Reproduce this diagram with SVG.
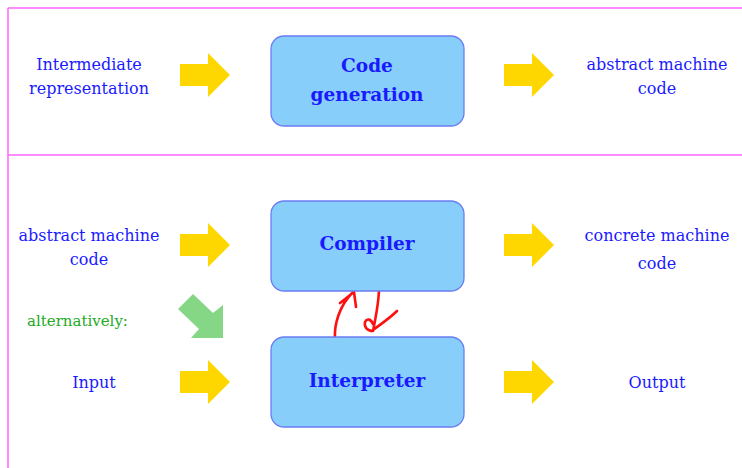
<svg xmlns="http://www.w3.org/2000/svg" width="742" height="468" viewBox="0 0 742 468">
<defs>
<style>
.frame{stroke:#ff66ff;stroke-width:1.5;fill:none}
.box{fill:#87cefa;stroke:#6b7cf5;stroke-width:1.3}
.lbl{font-family:"DejaVu Serif","Liberation Serif",serif;font-size:16px;fill:#1a1aff;text-anchor:middle}
.title{font-family:"DejaVu Serif","Liberation Serif",serif;font-size:18.5px;font-weight:bold;fill:#1a1aff;text-anchor:middle}
.alt{font-family:"DejaVu Serif","Liberation Serif",serif;font-size:15px;fill:#22aa22}
.ya{fill:#ffd700}
.red{stroke:#ff1010;stroke-width:2.6;fill:none;stroke-linecap:round;stroke-linejoin:round}
</style>
<polygon id="yarrow" points="0,-11 28,-11 28,-22 50,0 28,22 28,11 0,11"/>
</defs>
<g id="frame">
<line class="frame" x1="8" y1="8" x2="742" y2="8"/>
<line class="frame" x1="8" y1="155" x2="742" y2="155"/>
<line class="frame" x1="8" y1="8" x2="8" y2="468"/>
</g>
<g id="connectors">
<use href="#yarrow" class="ya" x="180" y="75"/>
<use href="#yarrow" class="ya" x="504" y="75"/>
<use href="#yarrow" class="ya" x="180" y="245"/>
<use href="#yarrow" class="ya" x="504" y="245"/>
<use href="#yarrow" class="ya" x="180" y="382"/>
<use href="#yarrow" class="ya" x="504" y="382"/>
<polygon fill="#85d685" points="178,309 193,294 213,313 223,305 223,338 191,338 199,329"/>
<path class="red" d="M335,339 C334,325 339,306 353,292 M340,303 L354,292 L356,307"/>
<path class="red" d="M379,288 C379,302 376,316 373,331 C367,331 364,327 365,322 C367,318 371,319 373,324 M373,330 C381,324 390,318 397,311"/>
</g>
<g id="intermediate">
<text class="lbl" x="89" y="70">Intermediate</text>
<text class="lbl" x="89" y="94">representation</text>
</g>
<g id="codegen">
<rect class="box" x="271" y="36" width="193" height="90" rx="13"/>
<text class="title" x="367" y="72">Code</text>
<text class="title" x="367" y="101">generation</text>
</g>
<g id="amc1">
<text class="lbl" x="657" y="70">abstract machine</text>
<text class="lbl" x="657" y="94">code</text>
</g>
<g id="amc2">
<text class="lbl" x="89" y="241">abstract machine</text>
<text class="lbl" x="89" y="265">code</text>
</g>
<g id="compiler">
<rect class="box" x="271" y="201" width="193" height="90" rx="13"/>
<text class="title" x="367" y="250">Compiler</text>
</g>
<g id="cmc">
<text class="lbl" x="657" y="241">concrete machine</text>
<text class="lbl" x="657" y="269">code</text>
</g>
<g id="alternatively">
<text class="alt" x="27" y="326">alternatively:</text>
</g>
<g id="input">
<text class="lbl" x="94" y="388">Input</text>
</g>
<g id="interpreter">
<rect class="box" x="271" y="337" width="193" height="90" rx="13"/>
<text class="title" x="367" y="387">Interpreter</text>
</g>
<g id="output">
<text class="lbl" x="657" y="388">Output</text>
</g>
</svg>
